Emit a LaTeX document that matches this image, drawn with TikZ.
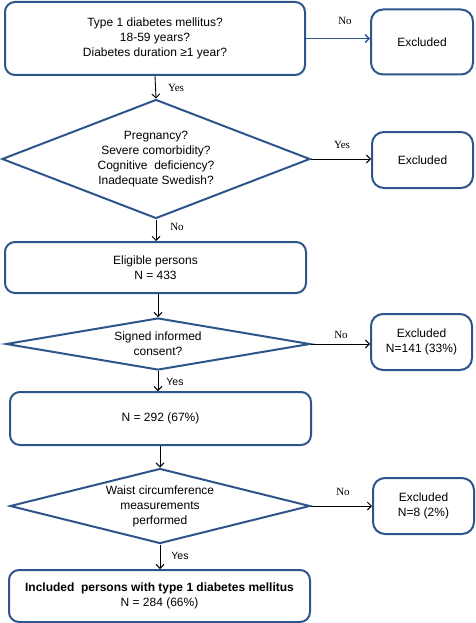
\documentclass[tikz,border=0pt]{standalone}
\usepackage{fontspec}
\setmainfont{Liberation Sans}
\newfontfamily\seriffont{Liberation Serif}
\usetikzlibrary{shapes.geometric,arrows.meta}
\definecolor{bord}{RGB}{45,85,140}
\begin{document}
\begin{tikzpicture}[x=1pt,y=-1pt,
 box/.style={draw=bord, line width=2pt, rounded corners=10pt, align=center, inner sep=0pt, font=\fontsize{12}{15}\selectfont},
 dia/.style={draw=bord, line width=2pt, diamond, align=center, inner sep=0pt, font=\fontsize{12}{15}\selectfont},
 arr/.style={-{Straight Barb[length=4pt,width=8pt]}, line width=0.9pt},
 lab/.style={font=\seriffont\fontsize{11}{12}\selectfont, inner sep=0pt},
 slab/.style={font=\fontsize{10.5}{12}\selectfont, inner sep=0pt}]
\useasboundingbox (0,0) rectangle (475,623);
\node[box, minimum width=300pt, minimum height=73pt] (q1) at (155,38.5) {Type 1 diabetes mellitus?\\18-59 years?\\Diabetes duration ≥1 year?};
\node[box, minimum width=102pt, minimum height=65pt, rounded corners=12pt] (ex1) at (422,42) {Excluded};
\node[dia, minimum width=308pt, minimum height=119pt, aspect=2.6] (d1) at (156,159) {Pregnancy?\\Severe comorbidity?\\Cognitive\ \ deficiency?\\Inadequate Swedish?};
\node[box, minimum width=101pt, minimum height=56pt, rounded corners=12pt] (ex2) at (422.5,160) {Excluded};
\node[box, minimum width=301pt, minimum height=51pt] (elig) at (155.5,267.5) {Eligible persons\\N = 433};
\node[dia, minimum width=304pt, minimum height=52pt, aspect=5.8] (d2) at (158,344) {Signed informed\\consent?};
\node[box, minimum width=101pt, minimum height=56pt, rounded corners=12pt] (ex3) at (421.5,342) {Excluded\\N=141 (33\%)};
\node[box, minimum width=301pt, minimum height=53pt] (n292) at (160.5,418.5) {N = 292 (67\%)};
\node[dia, minimum width=300pt, minimum height=75pt, aspect=4] (d3) at (160,506) {Waist circumference\\measurements\\performed};
\node[box, minimum width=101pt, minimum height=56pt, rounded corners=12pt] (ex4) at (423.5,506) {Excluded\\N=8 (2\%)};
\node[box, minimum width=301pt, minimum height=52pt] (fin) at (159.5,596) {\textbf{Included\ \ persons with type 1 diabetes mellitus}\\N = 284 (66\%)};
\draw[arr, draw=bord, line width=1.3pt] (q1.east) -- (ex1.west |- q1.east);
\draw[arr] (q1.south) -- (d1.north);
\draw[arr] (d1.east) -- (ex2.west |- d1.east);
\draw[arr] (d1.south) -- (elig.north -| d1.south);
\draw[arr] (elig.south -| d2.north) -- (d2.north);
\draw[arr] (d2.east) -- (ex3.west |- d2.east);
\draw[arr] (d2.south) -- (n292.north -| d2.south);
\draw[arr] (n292.south -| d3.north) -- (d3.north);
\draw[arr] (d3.east) -- (ex4.west |- d3.east);
\draw[arr] (d3.south) -- (fin.north -| d3.south);
\node[lab] (l1) at (345,21) {No};
\node[lab] (l2) at (176,88) {Yes};
\node[lab] (l3) at (342,145) {Yes};
\node[lab] (l4) at (177,227) {No};
\node[lab] (l5) at (341,335) {No};
\node[slab] (l6) at (175,382) {Yes};
\node[lab] (l7) at (343,492) {No};
\node[slab] (l8) at (180,556) {Yes};
\end{tikzpicture}
\end{document}
